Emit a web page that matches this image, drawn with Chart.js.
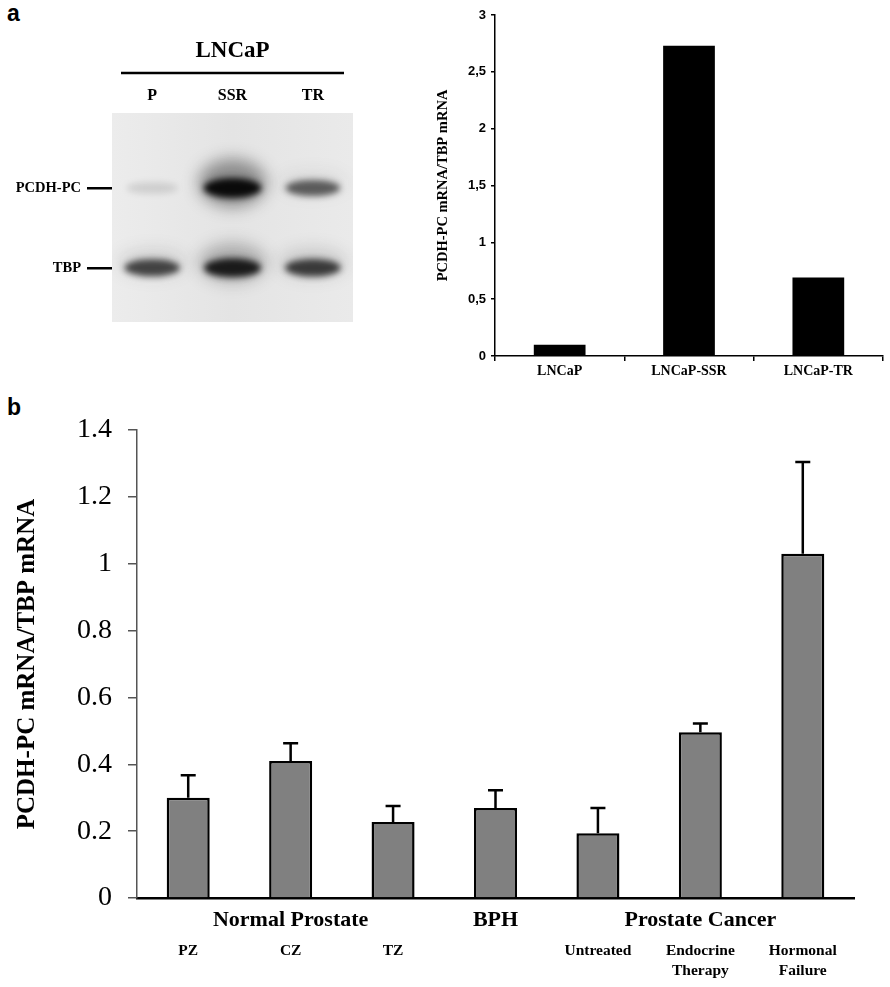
<!DOCTYPE html>
<html>
<head>
<meta charset="utf-8">
<script src="https://cdn.jsdelivr.net/npm/chart.js@4.4.1/dist/chart.umd.min.js"></script>
<style>
  body { margin: 0; background: #fff; }
  #page { position: relative; width: 890px; height: 987px; overflow: hidden; background: #fff; }
  canvas { position: absolute; }
  .panel { position: absolute; font: bold 23px "Liberation Sans", Arial, sans-serif; line-height: 23px; color: #000; }
</style>
</head>
<body>
<div id="page">
  <div class="panel" style="left:7px; top:2px">a</div>
  <div class="panel" style="left:7px; top:396px">b</div>
  <canvas id="gel" width="400" height="340" style="left:0; top:0"></canvas>
  <canvas id="chartA" width="490" height="392" style="left:400px; top:0"></canvas>
  <canvas id="chartB" width="890" height="597" style="left:0; top:390px"></canvas>
</div>
<script>
const serif = "'Liberation Serif', 'Times New Roman', serif"
const sans = "'Liberation Sans', Arial, sans-serif"

// gel (panel a, left)
const gelLanes = ["P", "SSR", "TR"]
const gelRows = ["PCDH-PC", "TBP"]
const pcdhBand = [0.12, 1.0, 0.62]
const tbpBand = [0.72, 0.9, 0.76]

// panel a, right
const lineLabels = ["LNCaP", "LNCaP-SSR", "LNCaP-TR"]
const lineValues = [0.1, 2.73, 0.69]

// panel b
const tissues = ["PZ", "CZ", "TZ", "BPH", "Untreated", "Endocrine Therapy", "Hormonal Failure"]
const groupLabels = ["", "Normal Prostate", "", "BPH", "", "Prostate Cancer", ""]
const subLabels = ["PZ", "CZ", "TZ", "", "Untreated", ["Endocrine", "Therapy"], ["Hormonal", "Failure"]]
const tissueValues = [0.30, 0.41, 0.227, 0.269, 0.194, 0.496, 1.03]
const tissueErrors = [0.067, 0.053, 0.048, 0.053, 0.075, 0.026, 0.274]

Chart.defaults.animation = false
Chart.defaults.devicePixelRatio = 1

const gelPlugin = {
  id: "gel",
  beforeDatasetsDraw(chart) {
    const { ctx, chartArea: a } = chart
    ctx.save()
    const g = ctx.createLinearGradient(a.left, 0, a.right, 0)
    g.addColorStop(0, "#ececec")
    g.addColorStop(0.5, "#e4e4e4")
    g.addColorStop(1, "#eaeaea")
    ctx.fillStyle = g
    ctx.fillRect(a.left, a.top, a.right - a.left, a.bottom - a.top)
    // line under LNCaP
    ctx.strokeStyle = "#000"
    ctx.lineWidth = 2.5
    ctx.beginPath()
    ctx.moveTo(a.left + 9, a.top - 40)
    ctx.lineTo(a.right - 9, a.top - 40)
    ctx.stroke()
    ctx.restore()
  },
  afterDatasetsDraw(chart) {
    const { ctx, chartArea: a } = chart
    const bands = [pcdhBand, tbpBand]
    ctx.save()
    ctx.beginPath()
    ctx.rect(a.left, a.top, a.right - a.left, a.bottom - a.top)
    ctx.clip()
    chart.data.datasets.forEach((ds, r) => {
      chart.getDatasetMeta(r).data.forEach((pt, i) => {
        const k = bands[r][i]
        const halo = Math.pow(k, 4)
        ctx.filter = "blur(8px)"
        ctx.fillStyle = "rgba(30,30,30," + (halo * 0.45) + ")"
        ctx.beginPath()
        ctx.ellipse(pt.x, pt.y - 5, 34, 10 + 14 * halo, 0, 0, Math.PI * 2)
        ctx.fill()
        ctx.filter = "blur(3px)"
        ctx.fillStyle = "rgba(10,10,10," + k + ")"
        ctx.beginPath()
        ctx.ellipse(pt.x, pt.y, 25 + 4 * k, 5 + 5 * k, 0, 0, Math.PI * 2)
        ctx.fill()
      })
    })
    ctx.restore()
  },
}

new Chart(document.getElementById("gel"), {
  type: "scatter",
  data: {
    datasets: gelRows.map((row, r) => ({
      label: row,
      data: gelLanes.map(l => ({ x: l, y: r + 1 })),
      pointRadius: 0,
    })),
  },
  options: {
    responsive: false,
    layout: { padding: { top: 0, left: 0, right: 47, bottom: 18 } },
    plugins: { legend: { display: false }, tooltip: { enabled: false } },
    scales: {
      x: {
        type: "category",
        labels: gelLanes,
        position: "top",
        offset: true,
        grid: { display: false, drawTicks: false },
        border: { display: false },
        ticks: { font: { family: serif, weight: "bold", size: 16 }, color: "#000", padding: 8 },
        title: {
          display: true,
          text: "LNCaP",
          font: { family: serif, weight: "bold", size: 23 },
          color: "#000",
          padding: { top: 37, bottom: 0 },
        },
        afterFit: s => { s.height = 113 },
      },
      y: {
        type: "linear",
        reverse: true,
        min: 0.06,
        max: 2.68,
        grid: { drawOnChartArea: false, tickLength: 25, color: "#000", lineWidth: 2.5 },
        border: { display: false },
        afterBuildTicks: s => { s.ticks = gelRows.map((_, i) => ({ value: i + 1 })) },
        ticks: {
          callback: (v, i) => gelRows[i],
          font: { family: serif, weight: "bold", size: 14.5 },
          color: "#000",
          padding: 6,
        },
        afterFit: s => { s.width = 112 },
      },
    },
  },
  plugins: [gelPlugin],
})

new Chart(document.getElementById("chartA"), {
  type: "bar",
  data: {
    labels: lineLabels,
    datasets: [{ data: lineValues, backgroundColor: "#000", barPercentage: 0.4, categoryPercentage: 1 }],
  },
  options: {
    responsive: false,
    layout: { padding: { top: 15, right: 7, left: 0, bottom: 0 } },
    plugins: { legend: { display: false }, tooltip: { enabled: false } },
    scales: {
      x: {
        grid: { offset: true, drawOnChartArea: false, tickLength: 5, color: "#000", lineWidth: 1.5 },
        border: { color: "#000", width: 1.5 },
        ticks: { font: { family: serif, weight: "bold", size: 14 }, color: "#000", padding: 2, maxRotation: 0 },
        afterFit: s => { s.height = 36 },
      },
      y: {
        min: 0,
        max: 3,
        ticks: {
          stepSize: 0.5,
          callback: v => String(v).replace(".", ","),
          font: { family: sans, weight: "bold", size: 13 },
          color: "#000",
          padding: 5,
        },
        grid: { drawOnChartArea: false, tickLength: 4, color: "#000", lineWidth: 1.5 },
        border: { color: "#000", width: 1.5 },
        title: {
          display: true,
          text: "PCDH-PC mRNA/TBP mRNA",
          font: { family: serif, weight: "bold", size: 14.5 },
          color: "#000",
          padding: { top: 35, bottom: 0 },
        },
        afterFit: s => { s.width = 95 },
      },
    },
  },
})

const errorBars = {
  id: "errorBars",
  afterDatasetsDraw(chart) {
    const { ctx } = chart
    const y = chart.scales.y
    chart.getDatasetMeta(0).data.forEach((bar, i) => {
      const top = y.getPixelForValue(tissueValues[i] + tissueErrors[i])
      ctx.save()
      ctx.strokeStyle = "#000"
      ctx.lineWidth = 2.5
      ctx.beginPath()
      ctx.moveTo(bar.x, bar.y)
      ctx.lineTo(bar.x, top)
      ctx.moveTo(bar.x - 7.5, top)
      ctx.lineTo(bar.x + 7.5, top)
      ctx.stroke()
      ctx.restore()
    })
  },
}

new Chart(document.getElementById("chartB"), {
  type: "bar",
  data: {
    labels: tissues,
    datasets: [{
      data: tissueValues,
      backgroundColor: "#808080",
      borderColor: "#000",
      borderWidth: 2.5,
      barPercentage: 0.42,
      categoryPercentage: 1,
    }],
  },
  options: {
    responsive: false,
    layout: { padding: { top: 40, right: 36, left: 0, bottom: 0 } },
    plugins: { legend: { display: false }, tooltip: { enabled: false } },
    scales: {
      x: {
        labels: groupLabels,
        weight: 0,
        grid: { display: false, drawTicks: false },
        border: { color: "#000", width: 2.5 },
        ticks: { font: { family: serif, weight: "bold", size: 22 }, color: "#000", padding: 9, maxRotation: 0, autoSkip: false },
        afterFit: s => { s.height = 34 },
      },
      x2: {
        type: "category",
        labels: subLabels,
        position: "bottom",
        weight: 1,
        grid: { display: false, drawTicks: false },
        border: { display: false },
        ticks: {
          font: { family: serif, weight: "bold", size: 15.5, lineHeight: 1.3 },
          color: "#000",
          padding: 9,
          maxRotation: 0,
          autoSkip: false,
        },
        afterFit: s => { s.height = 55 },
      },
      y: {
        min: 0,
        max: 1.4,
        ticks: {
          stepSize: 0.2,
          callback: v => String(+v.toFixed(1)),
          font: { family: serif, size: 28 },
          color: "#000",
          padding: 16,
        },
        grid: { drawOnChartArea: false, tickLength: 9, color: "#555", lineWidth: 1.5 },
        border: { color: "#555", width: 1.5 },
        title: {
          display: true,
          text: "PCDH-PC mRNA/TBP mRNA",
          font: { family: serif, weight: "bold", size: 25 },
          color: "#000",
          padding: { top: 13, bottom: 0 },
        },
        afterFit: s => { s.width = 137 },
      },
    },
  },
  plugins: [errorBars],
})
</script>
</body>
</html>
